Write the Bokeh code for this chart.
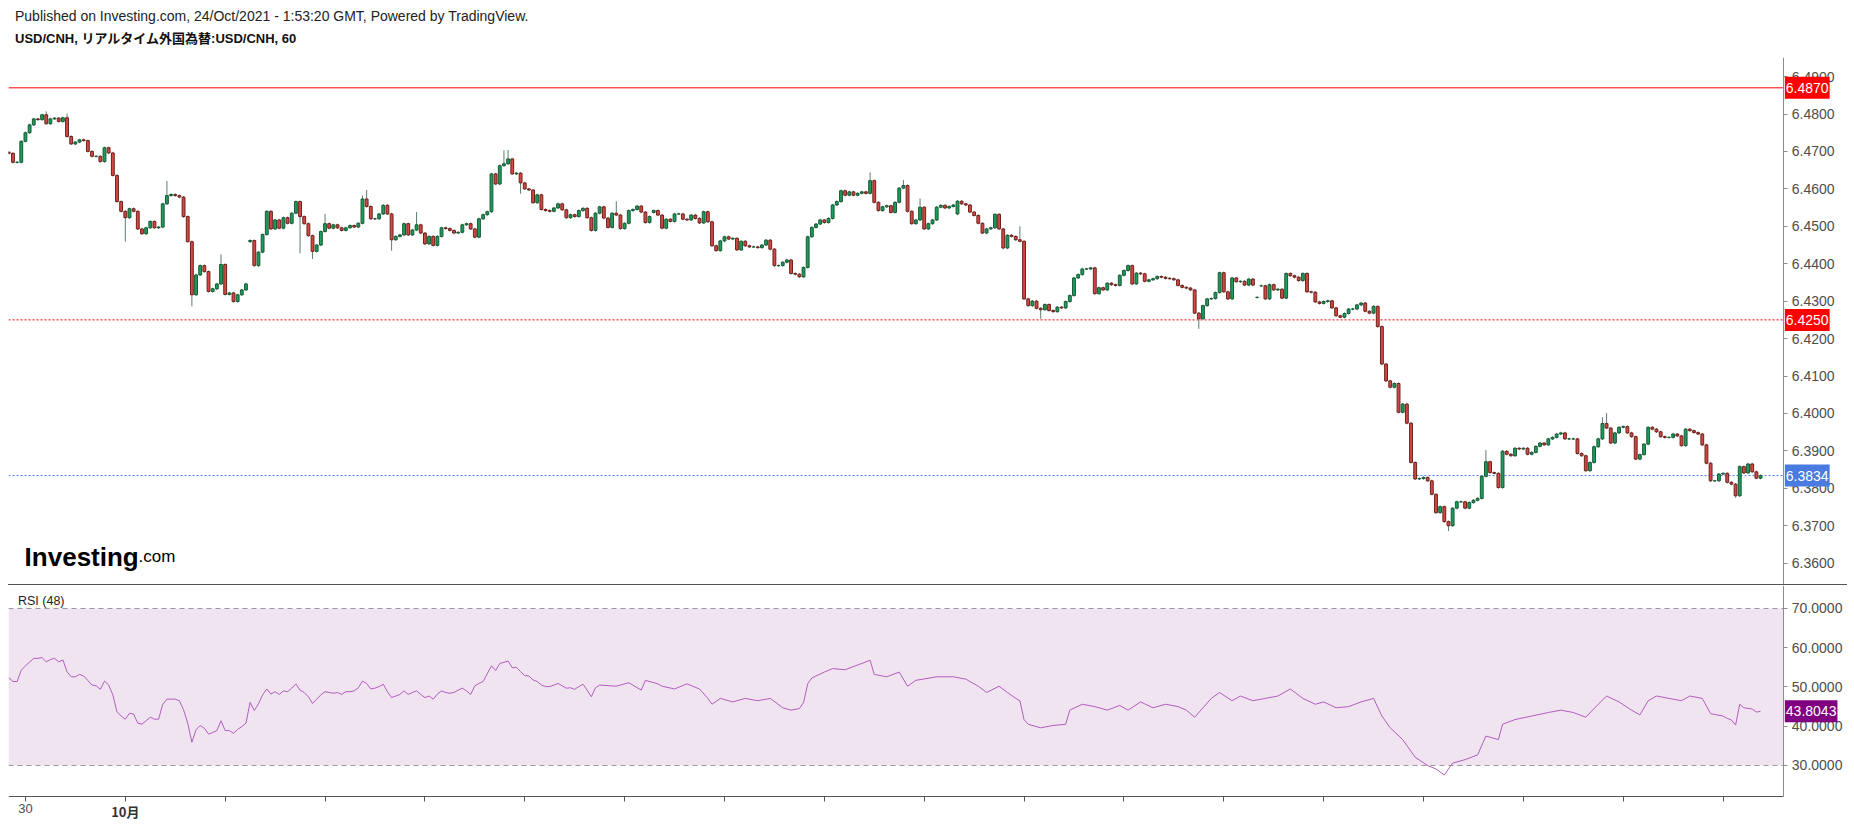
import numpy as np
from bokeh.plotting import figure
from bokeh.models import Range1d, FixedTicker, Label, Div, BoxAnnotation, NumeralTickFormatter
from bokeh.layouts import column
from bokeh.embed import file_html
from bokeh.resources import INLINE

# ---------------- data ----------------
close = [
6.4695,6.4671,6.4671,6.4727,6.4750,6.4771,6.4787,6.4785,6.4798,6.4774,
6.4787,6.4789,6.4780,6.4790,6.4740,6.4720,6.4725,6.4731,6.4729,6.4700,
6.4687,6.4687,6.4673,6.4710,6.4696,6.4636,6.4566,6.4540,6.4523,6.4547,
6.4540,6.4493,6.4480,6.4496,6.4513,6.4496,6.4498,6.4560,6.4582,6.4585,
6.4582,6.4578,6.4526,6.4459,6.4317,6.4370,6.4395,6.4379,6.4326,6.4333,
6.4346,6.4398,6.4318,6.4322,6.4299,6.4317,6.4330,6.4346,6.4462,6.4395,
6.4431,6.4478,6.4540,6.4493,6.4517,6.4495,6.4523,6.4508,6.4535,6.4566,
6.4526,6.4507,6.4475,6.4433,6.4450,6.4486,6.4507,6.4495,6.4504,6.4496,
6.4489,6.4496,6.4502,6.4498,6.4508,6.4573,6.4553,6.4520,6.4520,6.4533,
6.4556,6.4533,6.4464,6.4473,6.4477,6.4507,6.4477,6.4490,6.4504,6.4482,
6.4453,6.4473,6.4449,6.4473,6.4496,6.4494,6.4489,6.4482,6.4484,6.4504,
6.4507,6.4493,6.4471,6.4520,6.4531,6.4539,6.4640,6.4613,6.4662,6.4667,
6.4680,6.4640,6.4642,6.4616,6.4600,6.4597,6.4563,6.4584,6.4545,6.4542,
6.4540,6.4549,6.4560,6.4544,6.4523,6.4531,6.4526,6.4542,6.4548,6.4523,
6.4489,6.4535,6.4552,6.4522,6.4497,6.4535,6.4530,6.4494,6.4508,6.4542,
6.4545,6.4554,6.4538,6.4510,6.4526,6.4542,6.4530,6.4495,6.4519,6.4513,
6.4533,6.4533,6.4519,6.4517,6.4530,6.4521,6.4509,6.4539,6.4512,6.4448,
6.4435,6.4461,6.4472,6.4466,6.4468,6.4437,6.4460,6.4448,6.4445,6.4445,
6.4443,6.4450,6.4463,6.4439,6.4395,6.4395,6.4404,6.4410,6.4374,6.4372,
6.4365,6.4390,6.4472,6.4497,6.4506,6.4517,6.4510,6.4521,6.4557,6.4566,
6.4595,6.4583,6.4592,6.4583,6.4588,6.4592,6.4588,6.4622,6.4564,6.4542,
6.4552,6.4555,6.4537,6.4564,6.4602,6.4609,6.4540,6.4507,6.4517,6.4551,
6.4493,6.4507,6.4517,6.4551,6.4556,6.4549,6.4553,6.4557,6.4567,6.4560,
6.4557,6.4538,6.4529,6.4508,6.4482,6.4493,6.4496,6.4532,6.4493,6.4442,
6.4476,6.4473,6.4464,6.4460,6.4306,6.4288,6.4300,6.4281,6.4277,6.4291,
6.4275,6.4272,6.4284,6.4282,6.4299,6.4315,6.4362,6.4371,6.4386,6.4386,
6.4389,6.4320,6.4336,6.4330,6.4348,6.4344,6.4342,6.4369,6.4382,6.4395,
6.4346,6.4375,6.4373,6.4353,6.4357,6.4360,6.4366,6.4364,6.4361,6.4360,
6.4357,6.4342,6.4337,6.4335,6.4330,6.4268,6.4253,6.4288,6.4306,6.4307,
6.4323,6.4376,6.4325,6.4306,6.4362,6.4352,6.4353,6.4343,6.4359,6.4343,
6.4310,6.4341,6.4306,6.4344,6.4330,6.4332,6.4308,6.4374,6.4368,6.4364,
6.4355,6.4374,6.4325,6.4324,6.4298,6.4294,6.4299,6.4301,6.4282,6.4261,
6.4257,6.4267,6.4279,6.4279,6.4290,6.4295,6.4273,6.4268,6.4286,6.4232,
6.4132,6.4087,6.4070,6.4080,6.4003,6.4025,6.3974,6.3869,6.3825,6.3826,
6.3829,6.3820,6.3784,6.3735,6.3751,6.3711,6.3700,6.3747,6.3764,6.3764,
6.3747,6.3762,6.3768,6.3773,6.3832,6.3871,6.3842,6.3840,6.3802,6.3899,
6.3891,6.3887,6.3907,6.3905,6.3907,6.3891,6.3896,6.3912,6.3921,6.3916,
6.3932,6.3936,6.3945,6.3948,6.3932,6.3932,6.3932,6.3893,6.3887,6.3847,
6.3869,6.3911,6.3932,6.3973,6.3961,6.3921,6.3948,6.3963,6.3965,6.3948,
6.3938,6.3878,6.3890,6.3918,6.3963,6.3958,6.3951,6.3938,6.3936,6.3936,
6.3945,6.3940,6.3914,6.3958,6.3954,6.3949,6.3945,6.3916,6.3867,6.3820,
6.3820,6.3838,6.3840,6.3816,6.3811,6.3780,6.3858,6.3841,6.3865,6.3844,
6.3827,6.3834,
]
gap_open = {0: 6.4698, 58: 6.4459, 155: 6.4537, 228: 6.4533, 300: 6.4310, 301: 6.4341}
high_pts = {9: 6.4807, 14: 6.4801, 38: 6.4621, 51: 6.4425, 76: 6.4533, 85: 6.4582,
            86: 6.4597, 98: 6.4538, 119: 6.4703, 120: 6.4704, 146: 6.4567, 207: 6.4644,
            215: 6.4624, 219: 6.4574, 243: 6.4500, 355: 6.3902, 383: 6.3990, 384: 6.4001}
low_pts = {28: 6.4459, 44: 6.4286, 70: 6.4428, 73: 6.4413, 92: 6.4435, 123: 6.4587,
           248: 6.4253, 286: 6.4226, 346: 6.3686, 415: 6.3775}

# RSI (48): candle index -> value
rsi_idx = [
0,1,2,3,4,6,7,8,9,10,11,12,13,14,15,16,17,18,20,21,22,23,24,25,26,27,28,29,30,31,
32,33,34,35,36,37,38,39,40,41,42,43,44,45,46,47,48,49,50,51,52,53,54,55,56,57,58,59,60,61,
62,63,64,65,66,67,68,69,70,71,72,73,74,75,76,77,78,79,80,81,82,83,84,85,86,87,88,89,90,91,
92,93,94,95,96,97,98,99,100,101,102,103,104,105,106,107,108,109,110,111,112,113,114,116,117,118,119,120,121,122,
123,124,125,126,127,128,129,130,131,132,133,134,135,136,137,138,139,140,141,142,
146,149,152,153,156,157,160,163,166,168,169,171,174,177,180,183,186,188,190,191,192,193,196,198,201,204,207,208,211,214,
216,218,223,227,230,233,235,238,240,242,243,244,245,248,251,254,255,258,261,264,267,269,272,275,278,281,283,285,287,289,
291,294,296,299,302,305,308,311,314,316,319,322,325,328,330,332,335,338,341,343,345,347,350,353,355,358,359,362,366,370,
373,376,379,382,384,387,390,392,394,396,399,402,404,407,409,412,413,414,415,416,417,419,420,421,
]
rsi_val = [
52.4,51.4,51.4,54.3,55.4,57.3,57.3,57.5,56.4,57.0,57.3,56.4,56.9,53.9,52.6,52.6,53.2,52.8,50.5,50.3,49.4,51.5,50.5,48.0,43.7,42.6,41.8,43.3,43.1,40.8,
40.5,41.4,42.3,41.8,41.8,45.6,46.9,46.9,46.9,46.5,44.2,40.8,35.9,39.1,40.2,39.5,38.0,38.4,38.9,41.4,38.9,38.9,38.2,39.2,39.9,40.8,46.1,44.0,45.7,48.0,
49.5,48.2,48.8,48.1,49.0,48.8,49.7,50.8,49.2,48.6,47.5,45.8,46.9,48.0,48.8,48.6,48.4,48.6,48.1,48.8,48.8,49.0,49.8,51.5,50.9,49.5,49.7,50.1,50.7,48.8,
47.3,47.7,48.1,49.0,48.1,48.6,49.0,48.1,47.3,47.7,46.9,48.2,49.0,48.6,48.4,48.6,49.2,49.7,49.0,48.1,50.3,50.9,51.4,55.4,54.2,56.0,56.3,56.6,54.9,55.0,
53.9,52.9,52.8,51.8,51.4,50.5,50.1,50.1,50.5,50.9,50.3,49.7,49.8,49.4,50.1,50.7,49.2,47.5,49.8,50.5,
50.2,51.1,49.2,51.7,50.8,50.2,49.5,50.8,49.5,47.1,45.6,47.1,46.2,47.1,46.5,47.1,44.7,44.1,44.5,46.0,50.8,52.3,53.8,54.7,54.4,55.6,56.8,53.2,52.6,53.8,
50.2,51.7,52.6,52.6,52.0,50.2,48.6,50.2,48.6,47.1,46.5,41.7,40.5,39.6,40.2,40.5,44.1,45.6,45.0,44.1,45.3,44.1,46.2,44.7,45.6,45.0,44.1,42.3,44.7,47.1,
48.6,46.5,47.7,46.5,47.1,47.7,49.5,47.1,45.6,46.2,44.7,45.0,46.2,47.1,42.6,39.6,36.6,32.1,30.0,29.1,27.6,30.6,31.5,32.7,37.5,36.6,40.5,41.7,42.6,43.5,
44.1,43.5,42.3,45.6,47.7,46.2,44.1,42.9,46.5,47.7,47.1,46.5,47.7,47.1,43.2,42.6,42.0,41.6,40.3,45.6,44.7,44.4,43.6,43.8,
]
price_ticks = [6.36, 6.37, 6.38, 6.39, 6.40, 6.41, 6.42, 6.43, 6.44, 6.45, 6.46, 6.47, 6.48, 6.49]
rsi_ticks = [30, 40, 50, 60, 70]
day_tick_idx = [4 + 24 * k for k in range(18)]
day_labels = {4: "30", 28: "10月"}
levels = [(6.4870, "#ff0000", "solid"), (6.4250, "#ff0000", "dotted"), (6.3834, "#4a7be0", "dotted")]
rsi_last = 43.8043

# ---------------- derived ----------------
n = len(close)
idx = np.arange(n)
opens = [gap_open.get(i, close[i - 1] if i > 0 else close[0]) for i in range(n)]
highs = [high_pts.get(i, max(opens[i], close[i]) + 0.0003) for i in range(n)]
lows = [low_pts.get(i, min(opens[i], close[i]) - 0.0003) for i in range(n)]
up = [close[i] >= opens[i] for i in range(n)]

X0, XAX, X1 = -0.072, 426.6, 441.9   # frame left, price-scale line, frame right (data units)
XR = Range1d(X0, X1)
FONT = "Liberation Sans"
AXCOL = "#8c8c8c"
LABCOL = "#4d4d4d"

header = Div(text=(
    "<div style='font-family:Liberation Sans, Arial, sans-serif;font-size:14px;color:#222;"
    "padding-left:15px;padding-top:8px;line-height:17px;white-space:nowrap;'>"
    "Published on Investing.com, 24/Oct/2021 - 1:53:20 GMT, Powered by TradingView.</div>"
    "<div style='font-family:Liberation Sans, Noto Sans CJK JP, sans-serif;font-size:13px;font-weight:bold;color:#111;"
    "padding-left:15px;line-height:17px;margin-top:5px;white-space:nowrap;'>USD/CNH, リアルタイム外国為替:USD/CNH, 60</div>"),
    width=1847, height=57, margin=(0, 0, 0, 0))


def style_yaxis(ax, ticks, bounds=None):
    ax.ticker = FixedTicker(ticks=ticks)
    ax.formatter = NumeralTickFormatter(format="0.0000")
    ax.fixed_location = XAX
    if bounds is not None:
        ax.bounds = bounds
    ax.axis_line_color = AXCOL
    ax.major_tick_line_color = AXCOL
    ax.major_tick_out = 4
    ax.major_tick_in = 0
    ax.minor_tick_out = 0
    ax.minor_tick_in = 0
    ax.major_label_text_font = FONT
    ax.major_label_text_font_size = "14px"
    ax.major_label_text_color = LABCOL
    ax.major_label_standoff = 4


def tag(p, y, text, col):
    p.add_layout(Label(x=XAX, y=y, x_offset=1, text=text, text_color="white",
                       background_fill_color=col, text_font=FONT, text_font_size="14px",
                       text_baseline="middle", text_align="left", padding=(1, 6)))


# ---------------- price pane ----------------
p1 = figure(width=1847, height=527, x_range=XR, y_range=Range1d(6.3543, 6.4951),
            title=None, toolbar_location=None, output_backend="svg",
            x_axis_location=None, y_axis_location="right",
            min_border_left=8, min_border_right=0, min_border_top=0, min_border_bottom=0)
p1.outline_line_color = None
p1.grid.visible = False
style_yaxis(p1.yaxis[0], price_ticks)

for lvl, col, dash in levels:
    p1.segment(x0=[X0], y0=[lvl], x1=[XAX], y1=[lvl], line_color=col, line_width=1,
               line_dash=("solid" if dash == "solid" else "2 2"))

wick_col = "#5d7d6b"
p1.segment(x0=idx, y0=lows, x1=idx, y1=highs, line_color=wick_col, line_width=1)
ui = [i for i in range(n) if up[i]]
di = [i for i in range(n) if not up[i]]
p1.vbar(x=ui, bottom=[opens[i] for i in ui], top=[close[i] for i in ui], width=0.68,
        fill_color="#1e9c5a", line_color="#145a36", line_width=1)
p1.vbar(x=di, bottom=[close[i] for i in di], top=[opens[i] for i in di], width=0.68,
        fill_color="#d24a43", line_color="#6e1f1b", line_width=1)

for lvl, col, dash in levels:
    tag(p1, lvl, f"{lvl:.4f}", col)

p1.add_layout(Label(x=3.8, y=6.3617, text="Investing", text_font=FONT, text_font_style="bold",
                    text_font_size="26px", text_color="#000000", text_baseline="alphabetic"))
p1.add_layout(Label(x=31.2, y=6.3617, text=".com", text_font=FONT,
                    text_font_size="17px", text_color="#000000", text_baseline="alphabetic"))

sep = Div(text="", width=1839, height=1, margin=(0, 0, 0, 8), styles={"background-color": "#555555"})

# ---------------- RSI pane ----------------
p2 = figure(width=1847, height=238, x_range=XR, y_range=Range1d(15.22, 75.86),
            title=None, toolbar_location=None, output_backend="svg", y_axis_location="right",
            min_border_left=8, min_border_right=0, min_border_top=0, min_border_bottom=0)
p2.outline_line_color = None
p2.grid.visible = False
style_yaxis(p2.yaxis[0], rsi_ticks, bounds=(22.1, 75.86))
axx = p2.xaxis[0]
axx.fixed_location = 22.1
axx.bounds = (X0, XAX)
axx.ticker = FixedTicker(ticks=[4], minor_ticks=[t for t in day_tick_idx if t != 4])
axx.major_label_overrides = {4: day_labels[4]}
axx.major_label_text_font = FONT
axx.major_label_text_font_size = "13px"
axx.major_label_text_color = LABCOL
axx.major_label_standoff = 3
axx.axis_line_color = "#555555"
axx.major_tick_line_color = "#555555"
axx.minor_tick_line_color = "#555555"
axx.major_tick_out = 5
axx.major_tick_in = 0
axx.minor_tick_out = 5
axx.minor_tick_in = 0

p2.add_layout(BoxAnnotation(bottom=30, top=70, left=X0, right=XAX, fill_color="#f0e4f1",
                            fill_alpha=1.0, line_color=None, level="underlay"))
for v in (70, 30):
    p2.segment(x0=[X0], y0=[v], x1=[XAX], y1=[v], line_color="#999999", line_width=1, line_dash="5 4")
p2.line(x=rsi_idx, y=rsi_val, line_color="#b35cc0", line_width=1)
tag(p2, rsi_last, f"{rsi_last:.4f}", "#800080")
p2.add_layout(Label(x=2.2, y=71.8, text="RSI (48)", text_font=FONT, text_font_size="12.5px",
                    text_color="#222222", text_baseline="middle"))
p2.add_layout(Label(x=28, y=22.1, y_offset=-15, text=day_labels[28], text_font="Noto Sans CJK JP",
                    text_font_size="13px", text_font_style="bold", text_color="#333333",
                    text_baseline="middle", text_align="center"))

layout = column(header, p1, sep, p2, spacing=0)
open("out.html", "w").write(file_html(layout, INLINE))
